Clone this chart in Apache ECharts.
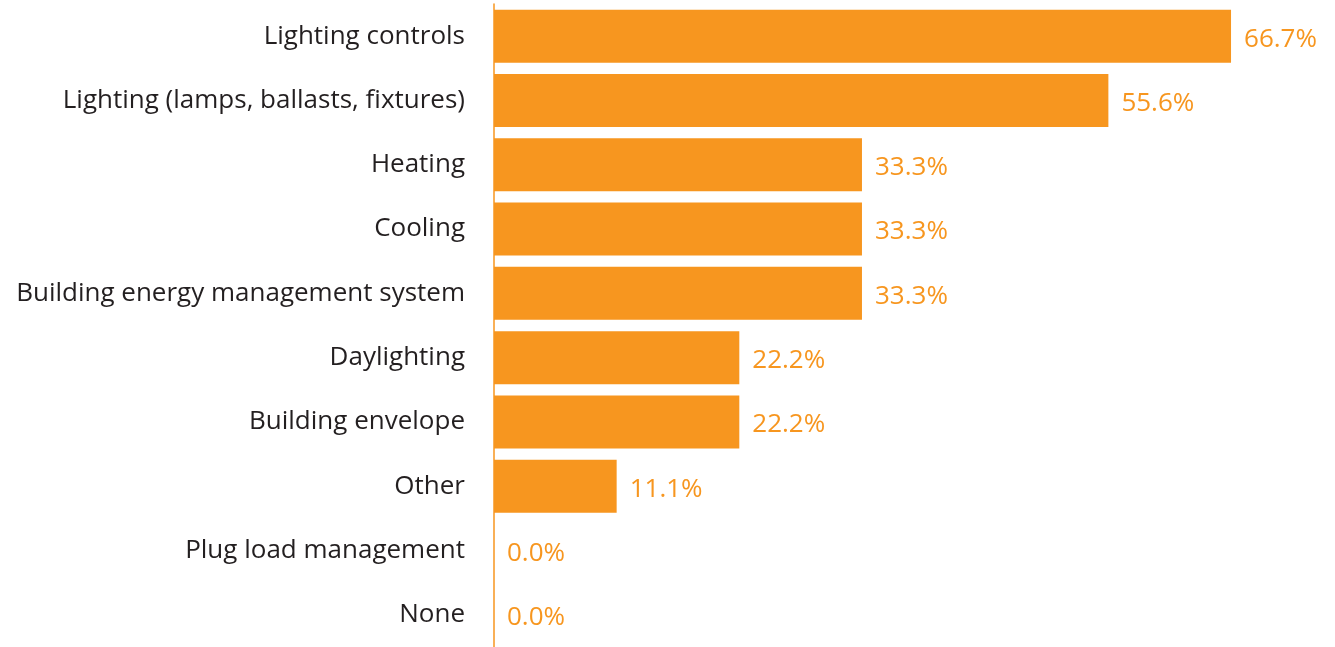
<!DOCTYPE html>
<html>
<head>
<meta charset="utf-8">
<script src="https://cdn.jsdelivr.net/npm/echarts@6/dist/echarts.min.js"></script>
<style>
  html, body { margin: 0; padding: 0; background: #ffffff; }
  #chart { width: 1335px; height: 647px; }
</style>
</head>
<body>
<div id="chart"></div>
<script>
// Energy-efficiency measures, share of respondents (%)
const categories = [
  'Lighting controls',
  'Lighting (lamps, ballasts, fixtures)',
  'Heating',
  'Cooling',
  'Building energy management system',
  'Daylighting',
  'Building envelope',
  'Other',
  'Plug load management',
  'None'
];
const values = [66.7, 55.6, 33.3, 33.3, 33.3, 22.2, 22.2, 11.1, 0.0, 0.0];

const ORANGE = '#F7961F';
const FONT = '"Open Sans", "Noto Sans", sans-serif';

const chart = echarts.init(document.getElementById('chart'), null, { renderer: 'canvas' });
chart.setOption({
  animation: false,
  backgroundColor: '#ffffff',
  grid: { left: 494, top: 4, height: 645, width: 773.5, containLabel: false },
  xAxis: {
    type: 'value',
    min: 0,
    max: 70,
    show: false
  },
  yAxis: {
    type: 'category',
    inverse: true,
    data: categories,
    axisLine: { show: true, lineStyle: { color: ORANGE, width: 1.5 } },
    axisTick: { show: false },
    axisLabel: {
      margin: 29,
      color: '#231F20',
      fontFamily: FONT,
      fontSize: 26,
      padding: [4, 0, 0, 0]
    }
  },
  series: [{
    type: 'bar',
    data: values,
    barWidth: 53,
    itemStyle: { color: ORANGE },
    label: {
      show: true,
      position: 'right',
      distance: 13,
      offset: [0, 3],
      color: ORANGE,
      fontFamily: FONT,
      fontSize: 26,
      formatter: p => p.value.toFixed(1) + '%'
    }
  }]
});
</script>
</body>
</html>
